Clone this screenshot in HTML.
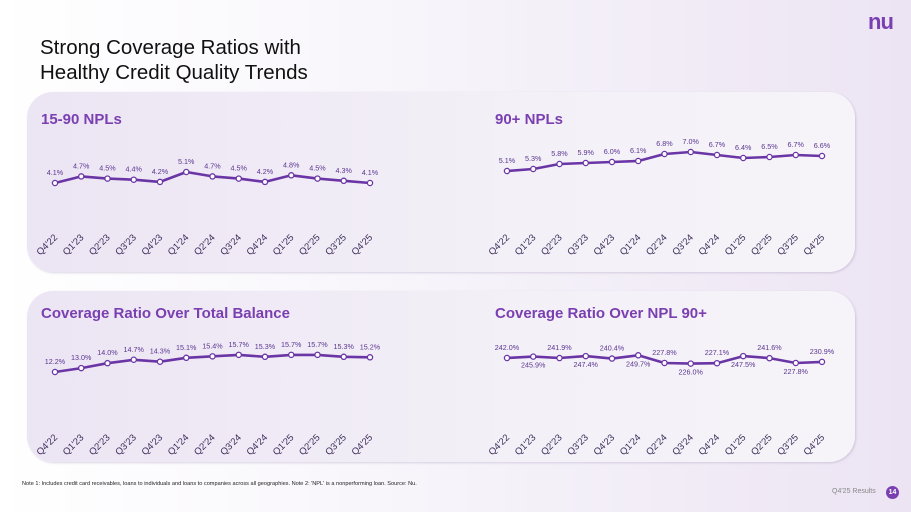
<!DOCTYPE html>
<html><head><meta charset="utf-8"><style>
body{margin:0;width:911px;height:512px;overflow:hidden;font-family:"Liberation Sans",sans-serif;}
#bg{position:absolute;left:0;top:0;width:911px;height:512px;background:linear-gradient(90deg,#ffffff 0%,#f8f6fb 40%,#ece4f3 100%);}
.panel{position:absolute;left:27px;width:828px;border-radius:26px;background:linear-gradient(90deg,#ece5f4 0%,#f3f0f7 60%,#f6f4f9 100%);box-shadow:1px 1px 2px rgba(120,100,150,.25);}
.t{position:absolute;color:#111;font-size:20.5px;left:40px;}
.pt{position:absolute;color:#7a3fb0;font-weight:bold;font-size:15px}
</style></head><body>
<div id="bg"></div>
<div class="t" style="top:36px">Strong Coverage Ratios with</div>
<div class="t" style="top:61px">Healthy Credit Quality Trends</div>
<div style="position:absolute;left:868px;top:9px;color:#7a3fb0;font-weight:bold;font-size:22px;letter-spacing:-1px">nu</div>
<div class="panel" style="top:92px;height:180px"></div>
<div class="panel" style="top:291px;height:171px"></div>
<div class="pt" style="left:41px;top:111px">15-90 NPLs</div>
<div class="pt" style="left:495px;top:111px">90+ NPLs</div>
<div class="pt" style="left:41px;top:305px">Coverage Ratio Over Total Balance</div>
<div class="pt" style="left:495px;top:305px">Coverage Ratio Over NPL 90+</div>
<div style="position:absolute;left:22px;top:481px;font-size:5.6px;color:#222">Note 1: Includes credit card receivables, loans to individuals and loans to companies across all geographies. Note 2: 'NPL' is a nonperforming loan. Source: Nu.</div>
<div style="position:absolute;left:832px;top:488px;font-size:7px;color:#888">Q4'25 Results</div>
<div style="position:absolute;left:886px;top:486px;width:13px;height:13px;border-radius:50%;background:#7a3fb0;color:#fff;font-size:7px;text-align:center;line-height:13px;font-weight:bold">14</div>
<svg id="svg" width="911" height="512" style="position:absolute;left:0;top:0"></svg>
<script>
const categories=["Q4'22","Q1'23","Q2'23","Q3'23","Q4'23","Q1'24","Q2'24","Q3'24","Q4'24","Q1'25","Q2'25","Q3'25","Q4'25"];
const npl1590=[4.1,4.7,4.5,4.4,4.2,5.1,4.7,4.5,4.2,4.8,4.5,4.3,4.1];
const npl90=[5.1,5.3,5.8,5.9,6.0,6.1,6.8,7.0,6.7,6.4,6.5,6.7,6.6];
const covTotal=[12.2,13.0,14.0,14.7,14.3,15.1,15.4,15.7,15.3,15.7,15.7,15.3,15.2];
const covNpl=[242.0,245.9,241.9,247.4,240.4,249.7,227.8,226.0,227.1,247.5,241.6,227.8,230.9];
const NS='http://www.w3.org/2000/svg';
const svg=document.getElementById('svg');
function mk(t,a){const e=document.createElementNS(NS,t);for(const k in a)e.setAttribute(k,a[k]);svg.appendChild(e);return e;}
function chart(name,vals,x0,refV,refY,scale,axisY,alt,decimals){
  const step=(315)/(categories.length-1);
  const xs=i=>x0+i*step;
  const ys=v=>refY-(v-refV)*scale;
  let d='';
  vals.forEach((v,i)=>{d+=(i?'L':'M')+xs(i).toFixed(1)+','+ys(v).toFixed(1);});
  const p=mk('path',{d:d,fill:'none',stroke:'#6a35a5','stroke-width':2.6,'stroke-linejoin':'round'});
  
  
  vals.forEach((v,i)=>{
    const c=mk('circle',{cx:xs(i),cy:ys(v),r:2.6,fill:'#fff',stroke:'#6a35a5','stroke-width':1.3});
    
    
    const below=alt&&i%2===1;
    const t=mk('text',{x:xs(i),y:below?ys(v)+11:ys(v)-8,'text-anchor':'middle','font-size':7.2,fill:'#5a3590','font-family':'Liberation Sans, sans-serif'});
    t.textContent=v.toFixed(decimals)+'%';
    
    
  });
  categories.forEach((c,i)=>{
    const x=xs(i)+3;
    const t=mk('text',{x:x,y:axisY,'text-anchor':'end','font-size':9.5,fill:'#3d2d5a','font-family':'Liberation Sans, sans-serif',transform:'rotate(-45 '+x+' '+axisY+')'});
    t.textContent=c;
    
    
  });
}
chart('npl-15-90',npl1590,55,4.1,183,11,238,false,1);
chart('npl-90',npl90,507,5.1,171,10,238,false,1);
chart('coverage-total',covTotal,55,12.2,372,4.9,438,false,1);
chart('coverage-npl',covNpl,507,242.0,358,0.35,438,true,1);
</script>
</body></html>
